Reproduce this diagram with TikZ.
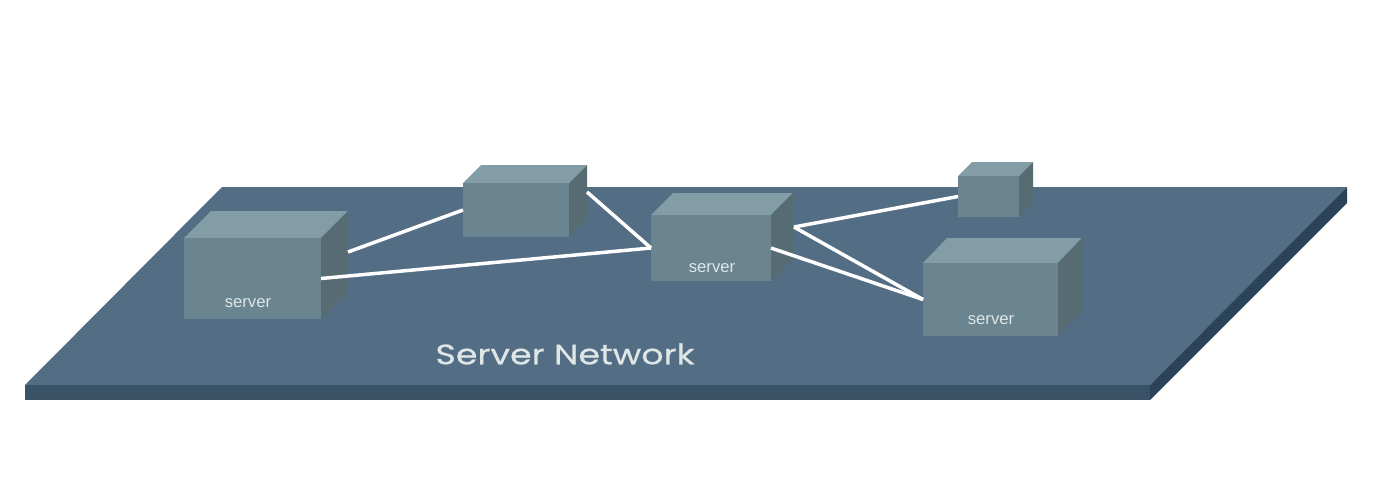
\documentclass[tikz,border=0pt]{standalone}
\usepackage{fontspec}
\setmainfont{Liberation Sans}
\newfontfamily\titlefont[FakeStretch=1.24, FakeBold=0.5]{Poppins}
\definecolor{planetop}{HTML}{536D85}
\definecolor{planefront}{HTML}{3A5266}
\definecolor{planeside}{HTML}{2B4358}
\definecolor{boxtop}{HTML}{839DA6}
\definecolor{boxfront}{HTML}{6A8590}
\definecolor{boxside}{HTML}{566B72}
\definecolor{labelgrey}{HTML}{DFE6E6}
\tikzset{
    boxface/.style={fill=boxfront, draw=none, inner sep=0pt, outer sep=0pt},
    boxlabel/.style={text=labelgrey, font=\fontsize{9.5pt}{11pt}\selectfont, inner sep=0pt},
    link/.style={draw=white, line width=0.07cm},
}
% name, left, top, width, height, depth x, depth y
\newcommand{\serverbox}[7]{
    \fill[boxtop] (#2,#3) -- ++(#6,-#7) -- ++(#4,0) -- ++(-#6,#7) -- cycle;
    \fill[boxside] (#2+#4,#3) -- ++(#6,-#7) -- ++(0,#5) -- ++(-#6,#7) -- cycle;
    \node[boxface, anchor=north west, minimum width=#4*0.02cm, minimum height=#5*0.02cm] (#1) at (#2,#3) {};
}

\begin{document}
\begin{tikzpicture}[x=0.02cm, y=-0.02cm]
    \useasboundingbox (0,0) rectangle (1374,481);

    % platform
    \fill[planetop] (222,187) -- (1347,187) -- (1150,385) -- (25,385) -- cycle;
    \fill[planefront] (25,385) -- (1150,385) -- (1150,400) -- (25,400) -- cycle;
    \fill[planeside] (1150,385) -- (1347,187) -- (1347,203) -- (1150,400) -- cycle;

    % boxes
    \serverbox{serverleft}{184}{238}{137}{81}{27}{27}
    \serverbox{switchtop}{463}{183}{106}{54}{18}{18}
    \serverbox{servermid}{651}{215}{120}{66}{22}{22}
    \serverbox{switchsmall}{958}{176}{61}{41}{14}{14}
    \serverbox{serverright}{923}{263}{135}{73}{24}{25}

    \node[boxlabel] (labelleft) at (248,303) {server};
    \node[boxlabel] (labelmid) at (712,268) {server};
    \node[boxlabel] (labelright) at (991,320) {server};

    % free ends on the side faces
    \coordinate (leftside) at (348,252);
    \coordinate (topside) at (587,192);
    \coordinate (midside) at (794,227);

    % links
    \draw[link] (leftside) -- (switchtop.west);
    \draw[link] (serverleft.east) -- (servermid.west);
    \draw[link] (topside) -- (servermid.west);
    \draw[link] (midside) -- (switchsmall.west);
    \draw[link] (midside) -- (serverright.west);
    \draw[link] (servermid.east) -- (serverright.west);

    \node[text=labelgrey, inner sep=0pt] (title) at (565,354) {\titlefont\fontsize{16pt}{20pt}\selectfont Server Network};
\end{tikzpicture}
\end{document}
